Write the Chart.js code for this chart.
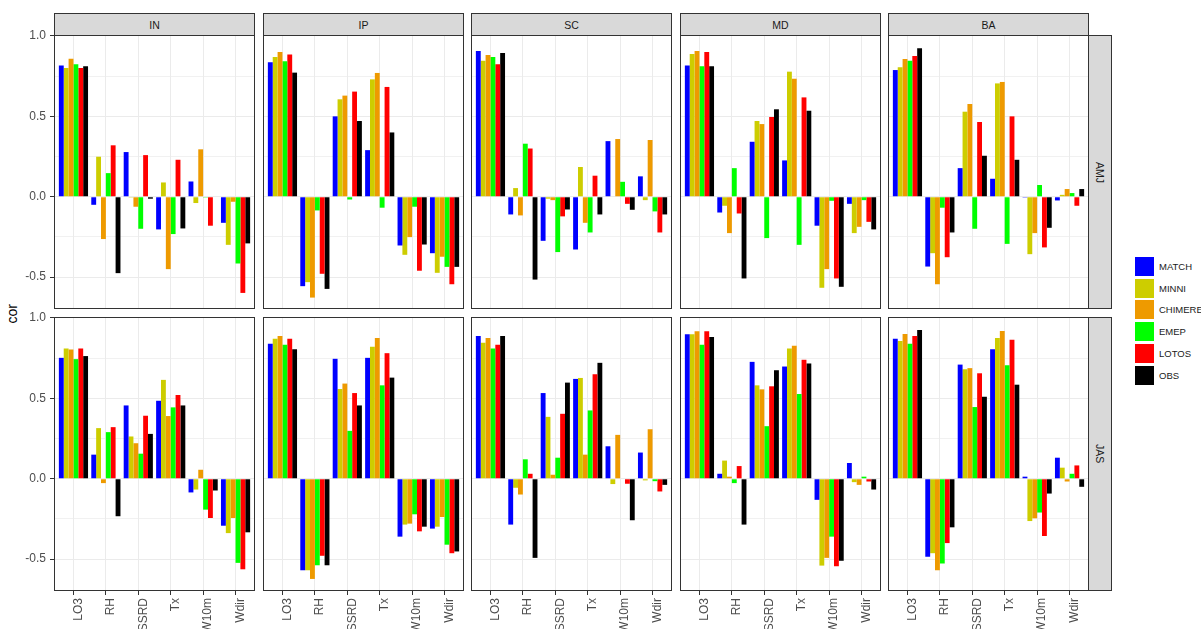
<!DOCTYPE html>
<html>
<head>
<meta charset="utf-8">
<script src="https://cdn.jsdelivr.net/npm/chart.js@4.4.1/dist/chart.umd.min.js"></script>
<style>
  html, body { margin: 0; padding: 0; background: #fff; }
  body { width: 1201px; height: 629px; overflow: hidden; position: relative;
         font-family: "Liberation Sans", Arial, sans-serif; }
  canvas { position: absolute; }
  .strip { position: absolute; background: #d9d9d9; border: 1px solid #333;
           box-sizing: border-box; color: #1a1a1a; font-size: 10.5px;
           display: flex; align-items: center; justify-content: center; }
  .strip.side span { writing-mode: vertical-rl; }
  #ytitle { position: absolute; left: 3px; top: 294px; height: 40px; width: 18px;
            font-size: 14px; color: #000; display: flex; align-items: center; justify-content: center; }
  #ytitle span { writing-mode: vertical-rl; transform: rotate(180deg); }
  .key { position: absolute; left: 1135px; width: 19px; height: 19px; }
  .klab { position: absolute; left: 1159px; font-size: 9.5px; color: #1a1a1a; line-height: 19px; }
</style>
</head>
<body>
<div id="ytitle"><span>cor</span></div>
<script>
// Correlation of each model (and observations) with the predictors, by region and season
const categories = ['LO3', 'RH', 'SSRD', 'Tx', 'W10m', 'Wdir'];
const models = ['MATCH', 'MINNI', 'CHIMERE', 'EMEP', 'LOTOS', 'OBS'];
const regions = ['IN', 'IP', 'SC', 'MD', 'BA'];
const seasons = ['AMJ', 'JAS'];
const yTickValues = [-0.5, 0, 0.5, 1.0];
const yTickLabels = ['-0.5', '0.0', '0.5', '1.0'];

// rows follow `models`, columns follow `categories`
const AMJ_IN = [
  [0.817, -0.050, 0.278, -0.203, 0.095, -0.162],
  [0.800, 0.249, -0.005, 0.089, -0.039, -0.299],
  [0.859, -0.263, -0.062, -0.450, 0.295, -0.031],
  [0.824, 0.147, -0.199, -0.232, -0.005, -0.415],
  [0.800, 0.320, 0.259, 0.230, -0.180, -0.598],
  [0.811, -0.475, -0.012, -0.197, -0.003, -0.290]
];
const AMJ_IP = [
  [0.836, -0.556, 0.500, 0.290, -0.303, -0.351],
  [0.869, -0.531, 0.606, 0.730, -0.361, -0.473],
  [0.900, -0.627, 0.629, 0.770, -0.251, -0.373],
  [0.842, -0.085, -0.017, -0.068, -0.062, -0.436],
  [0.884, -0.479, 0.654, 0.683, -0.460, -0.544],
  [0.772, -0.573, 0.471, 0.400, -0.297, -0.436]
];
const AMJ_SC = [
  [0.907, -0.110, -0.274, -0.328, 0.346, 0.127],
  [0.846, 0.054, -0.012, 0.185, 0.000, -0.021],
  [0.882, -0.116, -0.021, -0.162, 0.359, 0.353],
  [0.869, 0.330, -0.344, -0.222, 0.093, -0.091],
  [0.824, 0.300, -0.122, 0.131, -0.044, -0.222],
  [0.894, -0.515, -0.079, -0.110, -0.081, -0.110]
];
const AMJ_MD = [
  [0.817, -0.098, 0.342, 0.226, -0.180, -0.044],
  [0.888, -0.056, 0.471, 0.778, -0.566, -0.226],
  [0.907, -0.226, 0.452, 0.734, -0.450, -0.187],
  [0.811, 0.178, -0.257, -0.299, -0.025, -0.021],
  [0.900, -0.104, 0.496, 0.618, -0.508, -0.156],
  [0.811, -0.508, 0.544, 0.535, -0.560, -0.203]
];
const AMJ_BA = [
  [0.788, -0.434, 0.178, 0.112, -0.005, -0.023],
  [0.805, -0.351, 0.529, 0.705, -0.357, 0.012],
  [0.857, -0.544, 0.577, 0.714, -0.226, 0.048],
  [0.846, -0.068, -0.199, -0.293, 0.073, 0.023],
  [0.876, -0.376, 0.465, 0.500, -0.315, -0.056],
  [0.923, -0.222, 0.255, 0.230, -0.193, 0.048]
];
const JAS_IN = [
  [0.752, 0.150, 0.456, 0.485, -0.085, -0.292],
  [0.810, 0.315, 0.263, 0.615, -0.067, -0.338],
  [0.804, -0.027, 0.221, 0.390, 0.056, -0.244],
  [0.744, 0.290, 0.156, 0.444, -0.192, -0.523],
  [0.810, 0.321, 0.392, 0.521, -0.244, -0.563],
  [0.763, -0.233, 0.279, 0.456, -0.073, -0.333]
];
const JAS_IP = [
  [0.840, -0.569, 0.746, 0.752, -0.360, -0.310],
  [0.871, -0.569, 0.558, 0.821, -0.285, -0.298],
  [0.888, -0.623, 0.592, 0.875, -0.279, -0.238],
  [0.833, -0.538, 0.298, 0.581, -0.221, -0.410],
  [0.871, -0.479, 0.533, 0.781, -0.327, -0.463],
  [0.806, -0.538, 0.456, 0.629, -0.298, -0.452]
];
const JAS_SC = [
  [0.888, -0.285, 0.533, 0.621, 0.202, 0.163],
  [0.846, -0.056, 0.385, 0.627, -0.033, -0.010],
  [0.875, -0.098, 0.025, 0.150, 0.273, 0.308],
  [0.810, 0.121, 0.131, 0.425, 0.000, -0.015],
  [0.833, 0.031, 0.404, 0.650, -0.031, -0.079],
  [0.888, -0.492, 0.598, 0.721, -0.258, -0.038]
];
const JAS_MD = [
  [0.898, 0.031, 0.727, 0.698, -0.131, 0.098],
  [0.898, 0.113, 0.581, 0.810, -0.540, -0.021],
  [0.917, 0.013, 0.556, 0.827, -0.492, -0.038],
  [0.833, -0.027, 0.327, 0.527, -0.360, 0.013],
  [0.917, 0.079, 0.575, 0.740, -0.544, -0.017],
  [0.881, -0.285, 0.675, 0.717, -0.510, -0.067]
];
const JAS_BA = [
  [0.871, -0.485, 0.710, 0.806, 0.013, 0.131],
  [0.856, -0.463, 0.681, 0.875, -0.263, 0.069],
  [0.900, -0.569, 0.688, 0.919, -0.246, -0.017],
  [0.840, -0.527, 0.446, 0.706, -0.210, 0.031],
  [0.888, -0.400, 0.656, 0.865, -0.356, 0.083],
  [0.925, -0.302, 0.510, 0.585, -0.092, -0.050]
];

const grid = [
  [AMJ_IN, AMJ_IP, AMJ_SC, AMJ_MD, AMJ_BA],
  [JAS_IN, JAS_IP, JAS_SC, JAS_MD, JAS_BA]
];

const modelColors = ['#0000ff', '#cdcd00', '#ee9a00', '#00ff00', '#ff0000', '#000000'];

// facet geometry
const colX = [54, 263, 471, 680, 888];
const rowY = [35, 317];
const PW = 201, PH = 274;
const Y_MIN = -0.698, Y_MAX = 1.006;
const FONT = '"Liberation Sans", Arial, sans-serif';

const panelBorder = {
  id: 'panelBorder',
  afterDraw(chart) {
    const a = chart.chartArea, ctx = chart.ctx;
    ctx.save();
    ctx.strokeStyle = '#333';
    ctx.lineWidth = 1;
    ctx.strokeRect(a.left + 0.5, a.top + 0.5, a.right - a.left - 1, a.bottom - a.top - 1);
    ctx.restore();
  }
};

function addDiv(cls, style, html) {
  const d = document.createElement('div');
  d.className = cls;
  Object.assign(d.style, style);
  d.innerHTML = html;
  document.body.appendChild(d);
  return d;
}

for (let r = 0; r < seasons.length; r++) {
  for (let c = 0; c < regions.length; c++) {
    const isLeft = c === 0, isBottom = r === seasons.length - 1;
    const padL = isLeft ? 54 : 0;
    const padT = isLeft ? 10 : 0;
    const padB = isBottom ? 629 - (rowY[r] + PH) : 0;
    const cv = document.createElement('canvas');
    cv.width = PW + padL;
    cv.height = PH + padT + padB;
    cv.style.left = (colX[c] - padL) + 'px';
    cv.style.top = (rowY[r] - padT) + 'px';
    document.body.appendChild(cv);

    const values = grid[r][c];
    const datasets = models.map((m, k) => ({
      label: m,
      data: categories.map((cat, i) => ({ x: i + 1, y: values[k][i] })),
      backgroundColor: modelColors[k],
      borderWidth: 0,
      categoryPercentage: 0.9,
      barPercentage: 1.0
    }));

    new Chart(cv, {
      type: 'bar',
      data: { datasets },
      plugins: [panelBorder],
      options: {
        responsive: false,
        animation: false,
        devicePixelRatio: 1,
        events: [],
        layout: { padding: { top: padT, left: 0, right: 0, bottom: 0 } },
        plugins: { legend: { display: false }, tooltip: { enabled: false } },
        scales: {
          x: {
            type: 'linear',
            min: 0.4, max: 6.6,
            offset: false,
            afterBuildTicks(s) { s.ticks = categories.map((cat, i) => ({ value: i + 1 })); },
            afterFit(s) { s.height = padB; s.paddingLeft = 0; s.paddingRight = 0; },
            border: { display: false },
            grid: {
              offset: false,
              color: '#ebebeb', lineWidth: 1,
              drawTicks: isBottom, tickLength: 4, tickColor: '#333'
            },
            ticks: {
              display: isBottom,
              autoSkip: false,
              minRotation: 90, maxRotation: 90,
              padding: 3,
              labelOffset: 5,
              color: '#4d4d4d',
              font: { family: FONT, size: 12 },
              callback: v => categories[Math.round(v) - 1]
            }
          },
          y: {
            type: 'linear',
            min: Y_MIN, max: Y_MAX,
            afterBuildTicks(s) {
              s.ticks = [-0.5, -0.25, 0, 0.25, 0.5, 0.75, 1.0].map(v => ({ value: v }));
            },
            afterFit(s) { s.width = padL; s.paddingTop = 0; s.paddingBottom = 0; },
            border: { display: false },
            grid: {
              color: '#ebebeb',
              lineWidth: ctx => (yTickValues.includes(ctx.tick && ctx.tick.value) ? 1 : 0.7),
              drawTicks: isLeft, tickLength: 4,
              tickColor: ctx => (yTickValues.includes(ctx.tick && ctx.tick.value) ? '#333' : 'rgba(0,0,0,0)')
            },
            ticks: {
              display: isLeft,
              padding: 4,
              color: '#4d4d4d',
              font: { family: FONT, size: 12 },
              callback: v => {
                const i = yTickValues.findIndex(t => Math.abs(t - v) < 1e-9);
                return i >= 0 ? yTickLabels[i] : '';
              }
            }
          }
        }
      }
    });

    if (r === 0) {
      addDiv('strip', { left: colX[c] + 'px', top: '13px', width: PW + 'px', height: '23px' },
             '<span>' + regions[c] + '</span>');
    }
  }
  addDiv('strip side', { left: (colX[4] + PW - 1) + 'px', top: rowY[r] + 'px', width: '24px', height: PH + 'px' },
         '<span>' + seasons[r] + '</span>');
}

// legend
models.forEach((m, k) => {
  const top = 257 + k * 21.7;
  addDiv('key', { top: top + 'px', background: modelColors[k] }, '');
  addDiv('klab', { top: top + 'px' }, m);
});
</script>
</body>
</html>
